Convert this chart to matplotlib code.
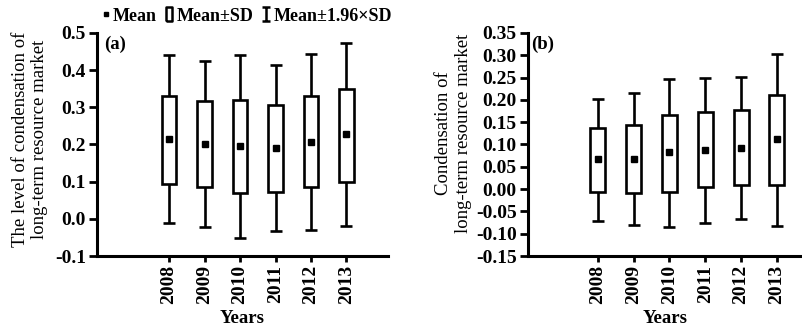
"""
Mean, Mean±SD and Mean±1.96×SD by year for two market indicators
"""

import matplotlib.pyplot as plt
from matplotlib.lines import Line2D
from matplotlib.path import Path

plt.rcParams['font.family'] = ['Liberation Serif', 'DejaVu Serif']

years = ['2008', '2009', '2010', '2011', '2012', '2013']

# (a) level of condensation of long-term resource market
a_mean = [0.215, 0.200, 0.197, 0.191, 0.207, 0.228]
a_box_lo = [0.095, 0.085, 0.070, 0.073, 0.085, 0.099]
a_box_hi = [0.331, 0.316, 0.321, 0.307, 0.331, 0.349]
a_whis_lo = [-0.012, -0.023, -0.052, -0.033, -0.030, -0.018]
a_whis_hi = [0.440, 0.424, 0.442, 0.413, 0.444, 0.473]

# (b) condensation of long-term resource market
b_mean = [0.068, 0.068, 0.083, 0.088, 0.093, 0.112]
b_box_lo = [-0.006, -0.009, -0.006, 0.004, 0.010, 0.010]
b_box_hi = [0.138, 0.143, 0.167, 0.172, 0.177, 0.211]
b_whis_lo = [-0.071, -0.080, -0.084, -0.075, -0.068, -0.083]
b_whis_hi = [0.202, 0.215, 0.247, 0.249, 0.251, 0.303]

LW = 1.9
TICK_FS = 14


def draw_panel(ax, mean, box_lo, box_hi, whis_lo, whis_hi):
    x = list(range(len(years)))
    yerr = [
        [m - lo for m, lo in zip(mean, whis_lo)],
        [hi - m for m, hi in zip(mean, whis_hi)],
    ]
    ax.errorbar(x, mean, yerr=yerr, fmt='none', ecolor='black',
                elinewidth=LW, capsize=4.3, capthick=LW, zorder=1)
    heights = [hi - lo for lo, hi in zip(box_lo, box_hi)]
    ax.bar(x, heights, bottom=box_lo, width=0.42, facecolor='white',
           edgecolor='black', linewidth=LW, zorder=2)
    ax.plot(x, mean, 's', color='black', markersize=5, zorder=3)

    ax.set_xticks(x)
    ax.set_xticklabels(years, rotation=90, fontsize=TICK_FS,
                       fontweight='bold')
    ax.spines['top'].set_visible(False)
    ax.spines['right'].set_visible(False)
    for s in ('left', 'bottom'):
        ax.spines[s].set_linewidth(2.2)
    ax.tick_params(axis='y', length=6, width=2, pad=2, labelsize=TICK_FS)
    ax.tick_params(axis='x', length=4.5, width=2, pad=2)
    ax.set_xlabel('Years', fontsize=13.5, fontweight='bold', labelpad=4)


fig = plt.figure(figsize=(8.03, 3.28), dpi=100)
ax_a = fig.add_axes([0.1208, 0.2195, 0.3624, 0.680])
ax_b = fig.add_axes([0.6572, 0.2195, 0.3428, 0.680])

draw_panel(ax_a, a_mean, a_box_lo, a_box_hi, a_whis_lo, a_whis_hi)
ax_a.set_ylim(-0.1, 0.5)
ax_a.set_yticks([-0.1, 0.0, 0.1, 0.2, 0.3, 0.4, 0.5])
ax_a.set_yticklabels(['-0.1', '0.0', '0.1', '0.2', '0.3', '0.4', '0.5'],
                     fontweight='bold')
ax_a.set_xlim(-2.03, 6.17)
ax_a.set_ylabel('The level of condensation of\nlong-term resource market',
                fontsize=13.5)
ax_a.yaxis.set_label_coords(-0.168, 0.525)
ax_a.text(0.024, 0.95, '(a)', transform=ax_a.transAxes, fontsize=13.5,
          fontweight='bold', va='center', ha='left')

draw_panel(ax_b, b_mean, b_box_lo, b_box_hi, b_whis_lo, b_whis_hi)
ax_b.set_ylim(-0.15, 0.35)
b_ticks = [-0.15, -0.10, -0.05, 0.0, 0.05, 0.10, 0.15, 0.20, 0.25, 0.30, 0.35]
ax_b.set_yticks(b_ticks)
ax_b.set_yticklabels([f'{t:.2f}' for t in b_ticks], fontweight='bold')
ax_b.set_xlim(-1.96, 5.73)
ax_b.set_ylabel('Condensation of\nlong-term resource market', fontsize=13.5)
ax_b.yaxis.set_label_coords(-0.203, 0.55)
ax_b.text(0.012, 0.95, '(b)', transform=ax_b.transAxes, fontsize=13.5,
          fontweight='bold', va='center', ha='left')

# Legend handles: small square, open box, I-beam
box_marker = Path([(-0.5, -1), (0.5, -1), (0.5, 1), (-0.5, 1), (-0.5, -1)])
ibeam = Path(
    [(-0.6, 1), (0.6, 1), (0, 1), (0, -1), (-0.6, -1), (0.6, -1)],
    [Path.MOVETO, Path.LINETO, Path.MOVETO, Path.LINETO,
     Path.MOVETO, Path.LINETO],
)
handles = [
    Line2D([], [], linestyle='none', marker='s', markersize=3.5,
           color='black'),
    Line2D([], [], linestyle='none', marker=box_marker, markersize=10,
           markerfacecolor='white', markeredgecolor='black',
           markeredgewidth=1.8),
    Line2D([], [], linestyle='none', marker=ibeam, markersize=10,
           markerfacecolor='none', markeredgecolor='black',
           markeredgewidth=1.8),
]
fig.legend(handles, ['Mean', 'Mean±SD', 'Mean±1.96×SD'], ncol=3,
           loc='center', bbox_to_anchor=(0.307, 0.951), frameon=False,
           handlelength=0.5, handletextpad=0.15, columnspacing=0.45,
           borderpad=0, borderaxespad=0,
           prop={'size': 13, 'weight': 'bold'})

fig.savefig('out.png', dpi=100)
